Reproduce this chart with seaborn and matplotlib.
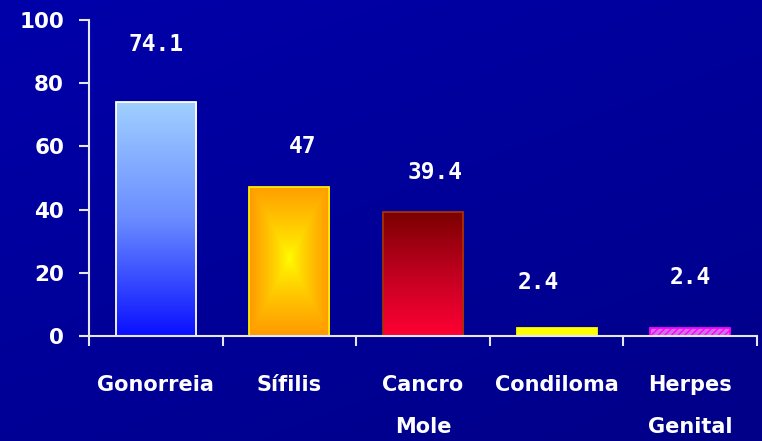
import numpy as np
import pandas as pd
import matplotlib
matplotlib.use("Agg")
import matplotlib.pyplot as plt
from matplotlib.colors import LinearSegmentedColormap, to_rgb
import seaborn as sns

# data
categories = ["Gonorreia", "Sífilis", "Cancro\nMole", "Condiloma", "Herpes\nGenital"]
values = [74.1, 47, 39.4, 2.4, 2.4]
value_labels = ["74.1", "47", "39.4", "2.4", "2.4"]

# label placement nudges (data units / category units)
label_dy = [18, 12.9, 12.5, 14.5, 16.1]
label_dx = [0.0, 0.10, 0.09, -0.14, 0.0]

base_colors = ["#3344ff", "#ff9900", "#d0002a", "#ffff00", "#dd66ee"]
edge_colors = ["#ffffff", "#ffee00", "#a83000", "#ffff00", "#ff00ff"]

sns.set_style("white")
plt.rcParams["font.family"] = ["DejaVu Sans"]

fig = plt.figure(figsize=(7.62, 4.41), dpi=100)

# dark blue background gradient
bg = fig.add_axes([0, 0, 1, 1], zorder=-5)
yy, xx = np.mgrid[0:1:200j, 0:1:300j]
t = 0.6 * yy + 0.4 * xx
bg_img = np.zeros((200, 300, 3))
bg_img[..., 2] = (0xAA - (0xAA - 0x88) * t) / 255.0
bg.imshow(bg_img, aspect="auto", extent=(0, 1, 0, 1), origin="upper")
bg.axis("off")

ax = fig.add_axes([0.1168, 0.2381, 0.9934 - 0.1168, 0.9546 - 0.2381])
ax.set_facecolor("none")

df = pd.DataFrame({"cat": categories, "val": values})
sns.barplot(data=df, x="cat", y="val", hue="cat", palette=base_colors,
            legend=False, width=0.6, ax=ax, saturation=1)

patches = list(ax.patches)[:len(values)]


def fill_gradient(p, img):
    x, y = p.get_x(), p.get_y()
    w, h = p.get_width(), p.get_height()
    im = ax.imshow(img, extent=(x, x + w, y, y + h), origin="lower",
                   aspect="auto", zorder=p.get_zorder() - 0.1,
                   interpolation="bilinear")
    im.set_clip_path(p)
    p.set_facecolor("none")


n = 200
for i, p in enumerate(patches):
    p.set_edgecolor(edge_colors[i])
    p.set_linewidth(1.3)
    if i == 0:
        cmap = LinearSegmentedColormap.from_list("g", ["#0a10ff", "#6a8cff", "#a0d0ff"])
        img = cmap(np.linspace(0, 1, n))[:, None, :3].repeat(2, axis=1)
        fill_gradient(p, img)
    elif i == 1:
        gy, gx = np.mgrid[0:1:n * 1j, 0:1:n * 1j]
        tt = np.maximum(np.abs(gx - 0.5) / 0.5, np.abs(gy - 0.52) / 0.52)
        tt = np.clip(tt, 0, 1) ** 0.8
        c0, c1 = np.array(to_rgb("#ffff00")), np.array(to_rgb("#ff9900"))
        img = c0 + (c1 - c0) * tt[..., None]
        fill_gradient(p, img)
    elif i == 2:
        cmap = LinearSegmentedColormap.from_list("r", ["#ff0033", "#c00020", "#7a0000"])
        img = cmap(np.linspace(0, 1, n))[:, None, :3].repeat(2, axis=1)
        fill_gradient(p, img)
    elif i == 4:
        p.set_facecolor("#d070e8")
        p.set_hatch("/////")
        p.set_edgecolor("#ff00ff")

# value labels above the bars
for i, p in enumerate(patches):
    cx = p.get_x() + p.get_width() / 2 + label_dx[i]
    ax.text(cx, values[i] + label_dy[i], value_labels[i], ha="center",
            va="center", color="white", fontsize=16.5, fontweight="bold",
            family="DejaVu Sans Mono")

ax.set_ylim(0, 100)
ax.set_xlim(-0.5, len(categories) - 0.5)
ax.set_yticks(range(0, 101, 20))
ax.set_xlabel("")
ax.set_ylabel("")

spine_col = "#e6e6f0"
for s in ["top", "right"]:
    ax.spines[s].set_visible(False)
for s in ["left", "bottom"]:
    ax.spines[s].set_color(spine_col)
    ax.spines[s].set_linewidth(1.5)

ax.tick_params(axis="y", direction="out", length=7, width=1.5, color=spine_col,
               colors="white", labelsize=15.5, pad=11, left=True)
for lab in ax.get_yticklabels():
    lab.set_fontweight("bold")
    lab.set_color("white")

ax.set_xticks(range(len(categories)))
ax.set_xticklabels(categories, fontsize=15, fontweight="bold", color="white",
                   linespacing=2.4, va="top")
ax.tick_params(axis="x", which="major", length=0, pad=28)
ax.set_xticks(np.arange(-0.5, len(categories), 1.0), minor=True)
ax.tick_params(axis="x", which="minor", direction="out", length=7, width=1.5,
               color=spine_col, bottom=True)

fig.savefig("out.png", dpi=100)
